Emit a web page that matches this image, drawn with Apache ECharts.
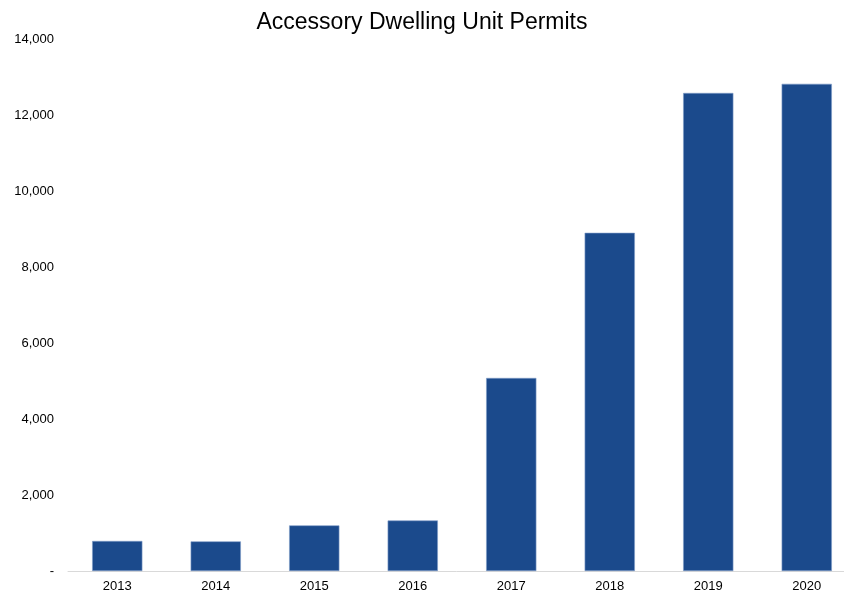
<!DOCTYPE html>
<html>
<head>
<meta charset="utf-8">
<script src="https://cdn.jsdelivr.net/npm/echarts@6/dist/echarts.min.js"></script>
<style>
    html, body { margin: 0; padding: 0; background: #fff; }
    #chart { width: 844px; height: 595px; }
</style>
</head>
<body>
<div id="chart"></div>
<script>
    // data
    var years = ['2013', '2014', '2015', '2016', '2017', '2018', '2019', '2020'];
    var permits = [790, 780, 1200, 1330, 5080, 8900, 12580, 12820];
    var yMax = 14000;
    var yStep = 2000;

    var chart = echarts.init(document.getElementById('chart'));
    chart.setOption({
        animation: false,
        title: {
            text: 'Accessory Dwelling Unit Permits',
            left: 'center',
            top: 6,
            textStyle: {
                fontFamily: 'Liberation Sans, Arial',
                fontWeight: 'normal',
                fontSize: 23,
                color: '#000'
            }
        },
        grid: {
            left: 68,
            right: -12,
            top: 39,
            bottom: 24,
            outerBoundsMode: 'none',
            containLabel: false
        },
        xAxis: {
            type: 'category',
            data: years,
            axisTick: { show: false },
            axisLine: { lineStyle: { color: '#d9d9d9' } },
            axisLabel: {
                color: '#000',
                fontFamily: 'Liberation Sans, Arial',
                fontSize: 13,
                margin: 9
            }
        },
        yAxis: {
            type: 'value',
            min: 0,
            max: yMax,
            interval: yStep,
            splitLine: { show: false },
            axisLine: { show: false },
            axisTick: { show: false },
            axisLabel: {
                color: '#000',
                fontFamily: 'Liberation Sans, Arial',
                fontSize: 13,
                margin: 14,
                formatter: function (v) {
                    return v === 0 ? '-' : v.toLocaleString('en-US');
                }
            }
        },
        series: [{
            type: 'bar',
            data: permits,
            barCategoryGap: '49%',
            itemStyle: {
                color: '#1b4a8c',
                borderColor: '#7f9cc8',
                borderWidth: 0.6
            }
        }]
    });
</script>
</body>
</html>
